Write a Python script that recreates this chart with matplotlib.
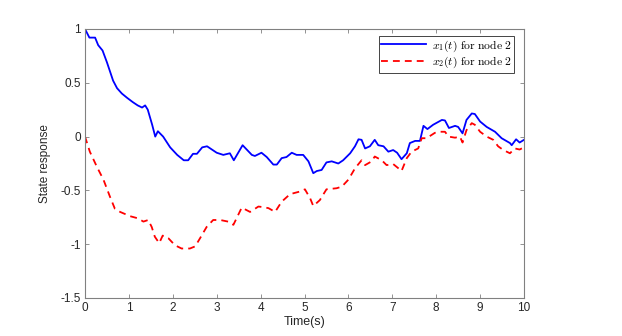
import matplotlib
matplotlib.use("Agg")
import matplotlib.pyplot as plt

t1 = [0, 0.1, 0.23, 0.3, 0.4, 0.5, 0.64, 0.73, 0.84, 0.96, 1.09, 1.2, 1.3, 1.37, 1.43, 1.53, 1.6, 1.66,
      1.78, 1.94, 2.1, 2.25, 2.35, 2.46, 2.55, 2.67, 2.78, 2.89, 3.0, 3.15, 3.3, 3.39, 3.59, 3.8, 3.87,
      4.02, 4.14, 4.29, 4.37, 4.48, 4.59, 4.71, 4.82, 4.97, 5.09, 5.2, 5.28, 5.39, 5.5, 5.62, 5.77,
      5.88, 6.04, 6.15, 6.23, 6.3, 6.38, 6.49, 6.6, 6.68, 6.8, 6.91, 7.02, 7.11, 7.21, 7.33, 7.4,
      7.52, 7.63, 7.71, 7.8, 7.93, 8.13, 8.2, 8.29, 8.43, 8.5, 8.6, 8.69, 8.81, 8.88, 9.0, 9.15,
      9.34, 9.49, 9.68, 9.72, 9.82, 9.9, 10.0]
x1 = [1.0, 0.92, 0.92, 0.85, 0.8, 0.69, 0.52, 0.45, 0.4, 0.36, 0.32, 0.29, 0.27, 0.29, 0.25, 0.11, 0.0, 0.05,
      0.0, -0.1, -0.17, -0.22, -0.22, -0.16, -0.16, -0.1, -0.09, -0.12, -0.15, -0.17, -0.155, -0.22, -0.08, -0.17, -0.18,
      -0.15, -0.19, -0.26, -0.26, -0.2, -0.19, -0.15, -0.17, -0.17, -0.23, -0.34, -0.32, -0.31, -0.24, -0.23, -0.25,
      -0.22, -0.155, -0.09, -0.025, -0.03, -0.11, -0.09, -0.03, -0.08, -0.09, -0.14, -0.125, -0.15, -0.21, -0.155, -0.06,
      -0.04, -0.04, 0.1, 0.07, 0.11, 0.155, 0.15, 0.08, 0.1, 0.09, 0.03, 0.155, 0.215, 0.21, 0.14, 0.09,
      0.045, -0.015, -0.06, -0.08, -0.025, -0.055, -0.03]

t2 = [0, 0.11, 0.27, 0.42, 0.57, 0.68, 0.8, 1.03, 1.21, 1.33, 1.44, 1.52, 1.59, 1.69, 1.77, 1.9, 2.05, 2.2,
      2.39, 2.51, 2.62, 2.77, 2.92, 3.08, 3.26, 3.38, 3.57, 3.76, 3.95, 4.05, 4.18, 4.33, 4.48, 4.67, 4.9,
      5.01, 5.13, 5.2, 5.35, 5.5, 5.73, 5.85, 6.0, 6.15, 6.3, 6.38, 6.53, 6.6, 6.76, 6.87, 7.02, 7.14,
      7.21, 7.33, 7.44, 7.59, 7.67, 7.78, 7.97, 8.09, 8.2, 8.28, 8.43, 8.54, 8.6, 8.69, 8.81, 8.88, 9.0,
      9.15, 9.3, 9.41, 9.53, 9.68, 9.79, 9.9, 10.0]
x2 = [0.0, -0.14, -0.28, -0.4, -0.56, -0.67, -0.7, -0.74, -0.76, -0.79, -0.775, -0.84, -0.93, -0.99, -0.92, -0.945, -1.01, -1.04,
      -1.04, -1.02, -0.945, -0.84, -0.775, -0.775, -0.79, -0.82, -0.66, -0.7, -0.65, -0.655, -0.665, -0.7, -0.605, -0.535, -0.51,
      -0.49, -0.575, -0.645, -0.59, -0.49, -0.48, -0.465, -0.4, -0.295, -0.22, -0.265, -0.23, -0.185, -0.22, -0.265, -0.255, -0.295,
      -0.32, -0.2, -0.14, -0.11, -0.015, -0.015, 0.035, 0.045, 0.045, 0.0, -0.01, 0.0, -0.055, 0.06, 0.125, 0.11, 0.045,
      0.0, -0.03, -0.09, -0.125, -0.155, -0.11, -0.12, -0.1]

x_ticks = [0, 1, 2, 3, 4, 5, 6, 7, 8, 9, 10]
y_ticks = [-1.5, -1, -0.5, 0, 0.5, 1]
y_ticklabels = ["-1.5", "-1", "-0.5", "0", "0.5", "1"]

plt.rcParams['font.family'] = ['Liberation Sans', 'DejaVu Sans']
plt.rcParams['mathtext.fontset'] = 'cm'

fig = plt.figure(figsize=(6.22, 3.36), dpi=100)
ax = fig.add_axes([85/622, 1-298/336, (524-85)/622, (298-29)/336])

ax.plot(t1, x1, color='#0000ff', lw=1.3, label=r'$x_1(t)\ \mathrm{for\ node\ 2}$')
ax.plot(t2, x2, color='#ff0000', lw=1.3, ls=(0, (3.8, 2.8)), label=r'$x_2(t)\ \mathrm{for\ node\ 2}$')

ax.set_xlim(0, 10)
ax.set_ylim(-1.5, 1)
ax.set_xticks(x_ticks)
ax.set_yticks(y_ticks)
ax.set_yticklabels(y_ticklabels)

grey = '#262626'
for s in ax.spines.values():
    s.set_color('#808080')
    s.set_linewidth(0.8)
ax.tick_params(direction='in', top=True, right=True, length=3, width=0.6, color='#808080',
               labelsize=8.5, labelcolor=grey, pad=3)
ax.set_xlabel('Time(s)', fontsize=9, color=grey, labelpad=1)
ax.set_ylabel('State response', fontsize=8.5, color=grey, labelpad=6.5)

leg = ax.legend(loc='upper right', bbox_to_anchor=(514/622, 1-36/336), bbox_transform=fig.transFigure,
                fontsize=8.4, frameon=True, fancybox=False, edgecolor='#262626', framealpha=1,
                handlelength=3.8, handletextpad=0.5, borderpad=0.2, labelspacing=0.1, borderaxespad=0)
leg.get_frame().set_linewidth(0.6)

fig.savefig('out.png', dpi=100)
